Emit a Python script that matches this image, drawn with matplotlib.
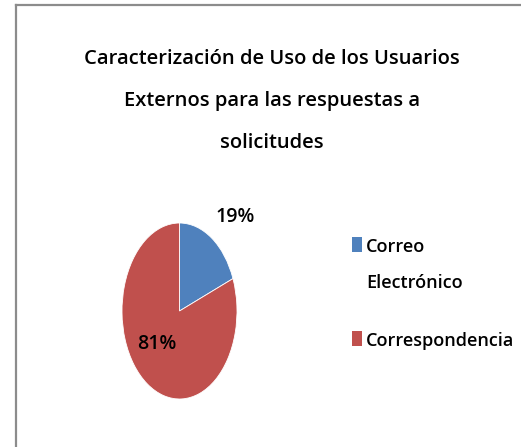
import matplotlib
matplotlib.use("Agg")
import matplotlib.pyplot as plt
from matplotlib import font_manager
from matplotlib.lines import Line2D
from matplotlib.patches import Rectangle

categories = ["Correo\nElectrónico", "Correspondencia"]
values = [19, 81]
pct_labels = ["19%", "81%"]
colors = ["#4F81BD", "#C0504D"]
title = "Caracterización de Uso de los Usuarios\nExternos para las respuestas a\nsolicitudes"

names = {f.name for f in font_manager.fontManager.ttflist}
fam = "Liberation Sans Narrow" if "Liberation Sans Narrow" in names else "Open Sans"
plt.rcParams['font.family'] = [fam, 'DejaVu Sans']
plt.rcParams['font.weight'] = 'semibold'

W, H = 521, 447
fig = plt.figure(figsize=(W / 100, H / 100), dpi=100)
fig.patch.set_facecolor("white")

# border (left and top)
fig.add_artist(Line2D([16 / W, 16 / W], [0, 1 - 5 / H], transform=fig.transFigure, color="#8c8c8c", lw=1.6))
fig.add_artist(Line2D([16 / W, 1], [1 - 5 / H, 1 - 5 / H], transform=fig.transFigure, color="#8c8c8c", lw=1.6))

fig.text(272 / W, 1 - 101 / H, title, ha="center", va="center", fontsize=14.5,
         linespacing=2.45, color="black", fontweight="semibold")

ax = fig.add_axes([122 / W, 1 - 399 / H, 115 / W, 176 / H])
wedges, _ = ax.pie(values, colors=colors, startangle=90, counterclock=False,
                   wedgeprops=dict(edgecolor="white", linewidth=0.6))
ax.set_aspect("auto")
ax.set_xlim(-1, 1)
ax.set_ylim(-1, 1)

# percentage labels
ax.text(0.97, 1.07, pct_labels[0], ha="center", va="center", fontsize=14, fontweight="semibold")
ax.text(-0.39, -0.37, pct_labels[1], ha="center", va="center", fontsize=14, fontweight="semibold")

# legend (manual, keyed to the wedges)
entry_tops = [237, 331]
for cat, col, top in zip(categories, colors, entry_tops):
    fig.add_artist(Rectangle((352 / W, 1 - (top + 15) / H), 10 / W, 15 / H,
                             transform=fig.transFigure, facecolor=col, edgecolor="none"))
    fig.text(366 / W, 1 - (top + 1) / H, cat, ha="left", va="top", fontsize=13,
             linespacing=2.3, fontweight="semibold", color="black")

fig.savefig("out.png", dpi=100, facecolor="white")
